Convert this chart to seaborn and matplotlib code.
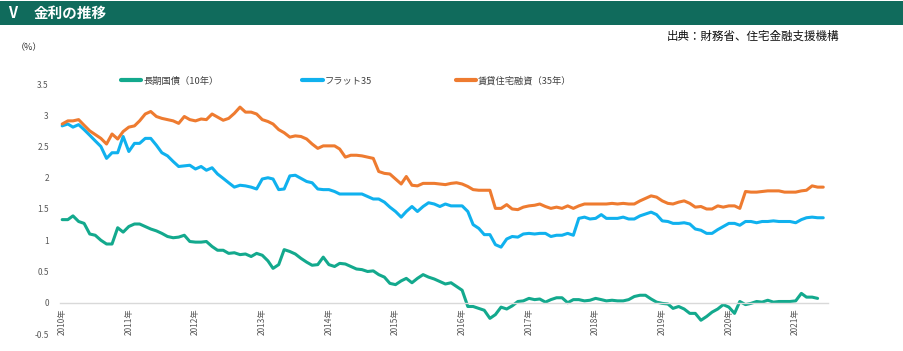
import numpy as np
import pandas as pd
import seaborn as sns
import matplotlib
matplotlib.use("Agg")
import matplotlib.pyplot as plt
from matplotlib.patches import Rectangle

# --- data: monthly rates (%) from 2010-01 ---------------------------------
start_month = "2010-01-01"

jgb_10y = [1.33, 1.33, 1.39, 1.30, 1.27, 1.10, 1.08, 1.00, 0.94, 0.94, 1.20, 1.13,
           1.22, 1.26, 1.26, 1.22, 1.18, 1.15, 1.11, 1.06, 1.04, 1.05, 1.08, 0.98,
           0.97, 0.97, 0.98, 0.90, 0.84, 0.84, 0.79, 0.80, 0.77, 0.78, 0.74, 0.79,
           0.76, 0.67, 0.55, 0.61, 0.85, 0.82, 0.78, 0.71, 0.65, 0.60, 0.61, 0.73,
           0.61, 0.58, 0.63, 0.62, 0.58, 0.54, 0.53, 0.50, 0.51, 0.45, 0.41, 0.31,
           0.29, 0.35, 0.39, 0.32, 0.39, 0.45, 0.41, 0.38, 0.34, 0.30, 0.32, 0.26,
           0.20, -0.06, -0.06, -0.09, -0.12, -0.25, -0.19, -0.07, -0.10, -0.05, 0.02, 0.03,
           0.07, 0.05, 0.06, 0.01, 0.05, 0.08, 0.08, 0.00, 0.05, 0.05, 0.03, 0.04,
           0.07, 0.05, 0.03, 0.04, 0.03, 0.03, 0.05, 0.10, 0.12, 0.12, 0.06, 0.01,
           -0.01, -0.02, -0.09, -0.06, -0.10, -0.17, -0.17, -0.28, -0.22, -0.15, -0.10, -0.03,
           -0.07, -0.17, 0.02, -0.03, -0.01, 0.02, 0.01, 0.04, 0.01, 0.02, 0.02, 0.02,
           0.03, 0.15, 0.09, 0.09, 0.07, np.nan]

flat35 = [2.83, 2.86, 2.81, 2.85, 2.77, 2.68, 2.59, 2.50, 2.31, 2.40, 2.40, 2.66,
          2.42, 2.55, 2.55, 2.63, 2.63, 2.52, 2.40, 2.35, 2.26, 2.18, 2.19, 2.20,
          2.14, 2.18, 2.12, 2.16, 2.06, 1.99, 1.92, 1.85, 1.88, 1.87, 1.85, 1.82,
          1.98, 2.00, 1.98, 1.81, 1.82, 2.03, 2.04, 1.99, 1.94, 1.92, 1.82, 1.81,
          1.81, 1.78, 1.74, 1.74, 1.74, 1.74, 1.74, 1.70, 1.66, 1.66, 1.61, 1.53,
          1.46, 1.37, 1.46, 1.54, 1.46, 1.54, 1.60, 1.58, 1.54, 1.58, 1.55, 1.55,
          1.55, 1.46, 1.25, 1.19, 1.09, 1.09, 0.93, 0.89, 1.02, 1.06, 1.05, 1.10,
          1.11, 1.10, 1.11, 1.11, 1.06, 1.08, 1.08, 1.11, 1.08, 1.35, 1.37, 1.34,
          1.35, 1.41, 1.35, 1.35, 1.35, 1.37, 1.34, 1.34, 1.39, 1.42, 1.45, 1.41,
          1.31, 1.30, 1.27, 1.27, 1.28, 1.26, 1.18, 1.16, 1.11, 1.11, 1.17, 1.22,
          1.27, 1.27, 1.24, 1.30, 1.30, 1.28, 1.30, 1.30, 1.31, 1.30, 1.30, 1.30,
          1.28, 1.33, 1.36, 1.37, 1.36, 1.36]

rental_35y = [2.86, 2.91, 2.91, 2.93, 2.84, 2.75, 2.69, 2.63, 2.54, 2.70, 2.62, 2.74,
              2.81, 2.83, 2.91, 3.02, 3.06, 2.98, 2.95, 2.93, 2.91, 2.87, 2.98, 2.93,
              2.91, 2.94, 2.93, 3.02, 2.97, 2.92, 2.95, 3.03, 3.13, 3.05, 3.05, 3.02,
              2.93, 2.90, 2.86, 2.77, 2.72, 2.65, 2.67, 2.66, 2.62, 2.54, 2.47, 2.51,
              2.51, 2.51, 2.46, 2.33, 2.36, 2.36, 2.35, 2.33, 2.31, 2.10, 2.07, 2.06,
              1.98, 1.90, 2.02, 1.88, 1.87, 1.91, 1.91, 1.91, 1.90, 1.89, 1.91, 1.92,
              1.90, 1.86, 1.81, 1.80, 1.80, 1.80, 1.51, 1.51, 1.57, 1.50, 1.49, 1.53,
              1.55, 1.56, 1.58, 1.54, 1.51, 1.53, 1.51, 1.55, 1.51, 1.55, 1.58, 1.58,
              1.58, 1.58, 1.58, 1.59, 1.58, 1.59, 1.58, 1.58, 1.63, 1.67, 1.71, 1.69,
              1.63, 1.59, 1.58, 1.61, 1.63, 1.59, 1.53, 1.54, 1.50, 1.50, 1.55, 1.53,
              1.55, 1.55, 1.51, 1.78, 1.77, 1.77, 1.78, 1.79, 1.79, 1.79, 1.77, 1.77,
              1.77, 1.79, 1.80, 1.87, 1.85, 1.85]

series_names = ["長期国債（10年）", "フラット35", "賃貸住宅融資（35年）"]
series_colors = ["#13a98d", "#10b1ee", "#ee7b30"]
year_labels = [f"{y}年" for y in range(2010, 2022)]
y_ticks = [-0.5, 0, 0.5, 1, 1.5, 2, 2.5, 3, 3.5]
y_labels = ["-0.5", "0", "0.5", "1", "1.5", "2", "2.5", "3", "3.5"]

dates = pd.date_range(start_month, periods=len(flat35), freq="MS")
wide = pd.DataFrame({"date": dates,
                     series_names[0]: jgb_10y,
                     series_names[1]: flat35,
                     series_names[2]: rental_35y})
rates = wide.melt(id_vars="date", var_name="series", value_name="rate").dropna()

# --- style ------------------------------------------------------------------
sns.set_style("white")
plt.rcParams["font.family"] = ["Noto Sans CJK JP", "DejaVu Sans"]

W, H = 904, 351
fig = plt.figure(figsize=(W / 100, H / 100), dpi=100)
ax = fig.add_axes([60 / W, 17 / H, 768 / W, 250 / H])

sns.lineplot(data=rates, x="date", y="rate", hue="series", hue_order=series_names,
             palette=series_colors, linewidth=2.2, ax=ax)

ax.set_ylim(-0.5, 3.5)
ax.set_xlim(dates[0] - pd.Timedelta(days=12), dates[-1] + pd.Timedelta(days=26))
ax.set_yticks(y_ticks)
ax.set_yticklabels(y_labels)
ax.set_xticks(pd.date_range(start_month, periods=len(year_labels), freq="12MS"))
ax.set_xticklabels(year_labels)
ax.tick_params(axis="y", length=0, pad=8, labelsize=6, labelcolor="#595959")
ax.tick_params(axis="x", length=0, pad=4, labelsize=6, labelcolor="#595959",
               labelrotation=90)
ax.set_xlabel("")
ax.set_ylabel("")

for side in ["top", "right", "left"]:
    ax.spines[side].set_visible(False)
ax.spines["bottom"].set_position(("data", 0))
ax.spines["bottom"].set_color("#d9d9d9")
ax.spines["bottom"].set_linewidth(1)

handles, labels = ax.get_legend_handles_labels()
for h in handles:
    h.set_linewidth(3)
ax.legend(handles, labels, loc="center left", ncol=3, frameon=False,
          bbox_to_anchor=(121 / W, 1 - 81 / H), bbox_transform=fig.transFigure,
          borderaxespad=0, borderpad=0, fontsize=6.7, labelcolor="#404040",
          handlelength=2.2, handletextpad=0.2, columnspacing=9.0)

# header band and titles
fig.patches.append(Rectangle((0, 1 - 25 / H), 1, 24 / H, transform=fig.transFigure,
                             facecolor="#106b5c", edgecolor="none", zorder=0))
fig.text(8 / W, 1 - 13 / H, "V", color="white", fontsize=10.5, fontweight="bold",
         va="center", ha="left")
fig.text(34 / W, 1 - 13 / H, "金利の推移", color="white", fontsize=10.5,
         fontweight="bold", va="center", ha="left")
fig.text(667 / W, 1 - 36 / H, "出典：財務省、住宅金融支援機構", color="#111111",
         fontsize=8.3, va="center", ha="left")
fig.text(16 / W, 1 - 48 / H, "（%）", color="#333333", fontsize=6.5,
         va="center", ha="left")

fig.savefig("out.png", dpi=100)
